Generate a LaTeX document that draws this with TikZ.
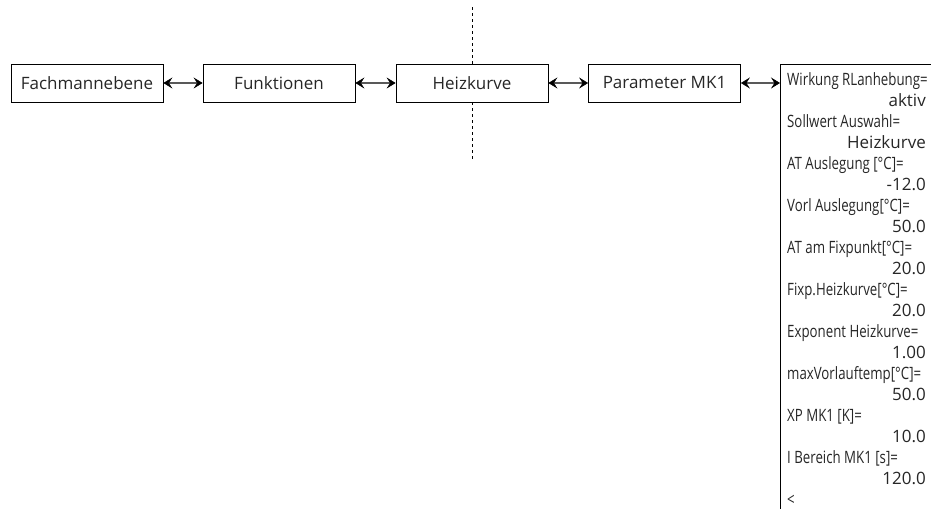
\documentclass[tikz,border=0pt]{standalone}
\usepackage{fontspec}
\setmainfont{Open Sans}
\newfontfamily\narrowfont[FakeStretch=0.78]{Open Sans}
\usetikzlibrary{arrows.meta}
\tikzset{mytip/.tip={Stealth[length=9pt,width=11pt,inset=3.5pt,black,line width=0.6pt]}}
\begin{document}
\begin{tikzpicture}[x=1pt,y=-1pt,
  menubox/.style={draw,line width=0.8pt,minimum width=152pt,minimum height=38pt,inner sep=0pt,font=\fontsize{17}{19}\selectfont,text=black!85},
  dbl/.style={line width=1.2pt,draw=black!65,{mytip}-{mytip}},
  lbl/.style={anchor=base west,inner sep=0pt,font=\narrowfont\fontsize{17}{19}\selectfont,text=black!85},
  val/.style={anchor=base east,inner sep=0pt,font=\fontsize{17}{19}\selectfont,text=black!85}]
\useasboundingbox (0,0) rectangle (931,509);
\node[menubox] (a) at (87,83) {Fachmannebene};
\node[menubox] (b) at (279,83) {Funktionen};
\node[menubox] (c) at (472,83) {Heizkurve};
\node[menubox] (d) at (664.5,83) {Parameter MK1};
\coordinate (p) at (780,83);
\coordinate (t1) at (472,7);
\coordinate (t2) at (472,160);
\draw[dashed,line width=0.6pt] (t1) -- (c.north);
\draw[dashed,line width=0.6pt] (c.south) -- (t2);
\draw[dbl] (a) -- (b);
\draw[dbl] (b) -- (c);
\draw[dbl] (c) -- (d);
\draw[dbl] (d) -- (p);
\draw[line width=0.8pt] (931,64) -- (780,64) -- (780,509);
\node[lbl] (l1) at (787,85) {Wirkung RLanhebung=};
\node[val] (v1) at (926,106) {aktiv};
\node[lbl] (l2) at (787,127) {Sollwert Auswahl=};
\node[val] (v2) at (926,148) {Heizkurve};
\node[lbl] (l3) at (787,169) {AT Auslegung [°C]=};
\node[val] (v3) at (926,190) {-12.0};
\node[lbl] (l4) at (787,211) {Vorl Auslegung[°C]=};
\node[val] (v4) at (926,232) {50.0};
\node[lbl] (l5) at (787,253) {AT am Fixpunkt[°C]=};
\node[val] (v5) at (926,274) {20.0};
\node[lbl] (l6) at (787,295) {Fixp.Heizkurve[°C]=};
\node[val] (v6) at (926,316) {20.0};
\node[lbl] (l7) at (787,337) {Exponent Heizkurve=};
\node[val] (v7) at (926,358) {1.00};
\node[lbl] (l8) at (787,379) {maxVorlauftemp[°C]=};
\node[val] (v8) at (926,400) {50.0};
\node[lbl] (l9) at (787,421) {XP MK1 [K]=};
\node[val] (v9) at (926,442) {10.0};
\node[lbl] (l10) at (787,463) {I Bereich MK1 [s]=};
\node[val] (v10) at (926,484) {120.0};
\node[lbl] (l11) at (787,505) {<};
\end{tikzpicture}
\end{document}
